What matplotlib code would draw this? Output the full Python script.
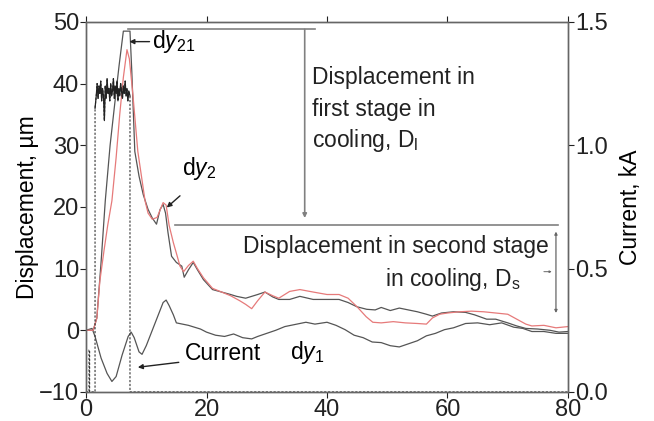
import matplotlib
matplotlib.use("Agg")
import matplotlib.pyplot as plt


# ------------------------------------------------------------
# Measured traces (time in s, displacement in um, current in kA)
# ------------------------------------------------------------
DY1_T = [0, 1.0, 1.5, 2.5, 3.5, 4.3, 5.0, 6.0, 7.0, 7.5, 8.0, 8.8, 9.3,
         10.0, 11.0, 12.0, 12.8, 13.3, 13.8, 14.5, 15.0, 16.0, 17.0, 18.0,
         19.0, 20.0, 21.5, 23.0, 24.5, 26.0, 27.5, 28.5, 30.0, 31.5, 33.0,
         35.0, 36.5, 38.0, 40.0, 41.5, 43.0, 44.5, 46.0, 47.5, 49.0, 50.5,
         52.0, 53.5, 55.0, 56.5, 58.0, 59.5, 61.0, 63.0, 65.0, 67.0, 69.0,
         71.0, 72.5, 74.0, 76.0, 78.0, 80.0]
DY1 = [0, 0.3, -1.0, -4.5, -7.0, -8.3, -7.5, -4.0, -1.0, -0.3, -1.2, -3.5,
       -3.9, -2.5, 0.0, 2.5, 4.5, 4.9, 4.0, 2.5, 1.2, 1.0, 0.8, 0.5, 0.2,
       -0.3, -0.8, -1.0, -0.6, -1.2, -1.4, -1.0, -0.5, 0.0, 0.6, 1.0, 1.3,
       1.0, 1.3, 0.8, 0.1, -0.8, -1.2, -1.9, -2.0, -2.5, -2.7, -2.2, -1.7,
       -0.9, -0.5, 0.1, 0.4, 1.1, 1.2, 0.9, 1.2, 0.5, 0.3, -0.2, -0.2, -0.5,
       -0.5]

DY2_T = [0, 1.2, 1.8, 2.3, 3.0, 3.6, 4.3, 5.0, 5.6, 6.2, 6.8, 7.2, 7.8, 8.6,
         9.2, 9.8, 10.3, 11.0, 11.8, 12.3, 12.8, 13.3, 13.8, 14.5, 15.0,
         15.6, 16.2, 17.0, 17.8, 18.5, 19.5, 21.0, 22.5, 24.0, 25.5, 26.5,
         27.5, 28.5, 29.7, 31.0, 32.0, 33.8, 35.5, 37.7, 40.0, 42.0, 43.5,
         45.0, 46.5, 47.6, 49.0, 51.0, 53.0, 55.0, 56.5, 57.5, 58.7, 60.0,
         62.0, 64.0, 66.0, 68.0, 70.0, 71.5, 73.0, 74.0, 76.0, 78.0, 80.0]
DY2 = [0, 0, 2.0, 8.0, 13.0, 17.0, 21.0, 28.0, 35.0, 41.0, 45.5, 44.0, 38.0,
       29.0, 25.0, 21.0, 19.0, 18.0, 18.3, 19.5, 20.7, 20.3, 17.0, 14.2,
       12.5, 10.4, 9.5, 10.5, 11.2, 10.0, 8.5, 6.8, 6.2, 5.6, 4.8, 4.2, 3.5,
       4.8, 6.2, 5.6, 5.2, 6.3, 6.6, 6.2, 5.8, 5.8, 5.2, 3.8, 2.2, 1.3, 1.2,
       1.4, 1.2, 1.1, 1.0, 2.0, 2.6, 2.8, 3.0, 3.1, 3.0, 2.8, 2.6, 1.8, 1.0,
       0.7, 0.8, 0.4, 0.6]

DY21_T = [0, 1.2, 1.8, 2.5, 3.2, 4.0, 4.8, 5.5, 6.2, 7.3, 7.6, 8.1, 8.8,
          9.5, 10.3, 11.0, 11.7, 12.3, 12.8, 13.2, 13.6, 14.2, 15.0, 15.9,
          16.3, 17.0, 17.8, 18.5, 19.5, 21.0, 22.5, 24.0, 25.0, 26.5, 27.5,
          28.5, 29.7, 31.0, 32.0, 33.8, 35.5, 37.7, 40.0, 42.0, 43.5, 45.0,
          46.6, 48.0, 49.0, 50.5, 52.0, 53.0, 55.0, 56.5, 57.5, 59.0, 61.0,
          63.0, 64.5, 66.5, 68.0, 70.0, 71.5, 73.0, 75.0, 77.0, 78.5, 80.0]
DY21 = [0, 0, 2.0, 11.0, 21.0, 30.0, 37.0, 43.0, 48.5, 48.5, 42.0, 29.0,
        25.0, 22.0, 19.6, 18.2, 17.2, 19.6, 20.4, 19.0, 15.9, 12.0, 11.0,
        10.4, 8.6, 9.8, 11.0, 9.8, 8.2, 6.6, 6.2, 5.8, 5.5, 5.2, 5.5, 5.8,
        6.2, 5.4, 5.0, 5.0, 5.5, 5.0, 5.0, 5.0, 4.5, 3.8, 3.4, 3.3, 3.7, 3.2,
        3.6, 3.4, 3.0, 2.6, 2.3, 2.8, 3.0, 2.9, 2.5, 1.8, 1.8, 1.2, 0.7, 0.3,
        0.2, 0.0, -0.3, -0.2]

# current pulse: leading edge, noisy plateau, trailing edge
CUR_T = [0, 0.5, 0.5, 0.6, 0.6, 1.5, 1.5, 1.7, 1.85, 2.0, 2.15, 2.3, 2.45,
         2.6, 2.75, 2.9, 3.05, 3.2, 3.35, 3.5, 3.65, 3.8, 3.95, 4.1, 4.25,
         4.4, 4.55, 4.7, 4.85, 5.0, 5.15, 5.3, 5.45, 5.6, 5.75, 5.9, 6.05,
         6.2, 6.35, 6.5, 6.65, 6.8, 6.95, 7.1, 7.3, 7.3, 80]
CUR = [0, 0, 0.17, 0.17, 0, 0, 1.15, 1.20, 1.25, 1.19, 1.24, 1.21, 1.26,
       1.18, 1.23, 1.20, 1.10, 1.24, 1.19, 1.27, 1.21, 1.23, 1.18, 1.25,
       1.20, 1.22, 1.27, 1.19, 1.24, 1.21, 1.26, 1.18, 1.23, 1.20, 1.25,
       1.22, 1.19, 1.24, 1.21, 1.26, 1.20, 1.23, 1.18, 1.22, 1.20, 0, 0]
PLATEAU = slice(6, 45)

X_TICKS = [0, 20, 40, 60, 80]
Y_TICKS = [-10, 0, 10, 20, 30, 40, 50]
I_TICKS = [0.0, 0.5, 1.0, 1.5]

GREY = "#555555"
RED = "#e67a7a"
ANNOT = "#808080"
TXT = "#222222"
FS = 16.5

plt.rcParams["font.family"] = ["Liberation Sans", "DejaVu Sans"]
plt.rcParams["mathtext.fontset"] = "custom"
plt.rcParams["mathtext.rm"] = "Liberation Sans"
plt.rcParams["mathtext.it"] = "Liberation Sans:italic"


def main():
    fig = plt.figure(figsize=(6.54, 4.21), dpi=100)
    ax = fig.add_axes([0.1315, 0.069, 0.737, 0.879])
    ax2 = ax.twinx()

    # current on the right-hand axis
    ax2.plot(CUR_T, CUR, color="#333333", lw=0.8, ls=(0, (2, 1.5)))
    ax2.plot(CUR_T[PLATEAU], CUR[PLATEAU], color="#222222", lw=0.9)
    ax2.set_ylim(0, 1.5)
    ax2.set_yticks(I_TICKS)
    ax2.set_yticklabels([f"{v:.1f}" for v in I_TICKS])
    ax2.set_ylabel("Current, kA", fontsize=FS, labelpad=8)

    # displacement traces
    ax.plot(DY1_T, DY1, color=GREY, lw=0.9)
    ax.plot(DY21_T, DY21, color=GREY, lw=0.9)
    ax.plot(DY2_T, DY2, color=RED, lw=0.9)

    ax.set_xlim(0, 80)
    ax.set_ylim(-10, 50)
    ax.set_xticks(X_TICKS)
    ax.set_yticks(Y_TICKS)
    ax.set_ylabel("Displacement, \u00b5m", fontsize=FS, labelpad=0)

    for a in (ax, ax2):
        a.tick_params(direction="out", length=4, width=0.8, labelsize=17,
                      colors=TXT, pad=1)
        for s in a.spines.values():
            s.set_color("#666666")
            s.set_linewidth(1.0)
    ax.tick_params(axis="x", top=True, pad=1)

    # stage brackets
    ax.plot([7.0, 38.0], [48.8, 48.8], color=ANNOT, lw=1.2)
    ax.annotate("", xy=(36.3, 18.2), xytext=(36.3, 48.8),
                arrowprops=dict(arrowstyle="-|>", color=ANNOT, lw=1.2,
                                mutation_scale=6, shrinkA=0, shrinkB=0))
    ax.plot([14.8, 78.3], [17.0, 17.0], color=ANNOT, lw=1.2)
    ax.annotate("", xy=(78.0, 2.8), xytext=(78.0, 16.0),
                arrowprops=dict(arrowstyle="<|-|>", color="#666666", lw=0.9,
                                mutation_scale=4, shrinkA=0, shrinkB=0))
    ax.annotate("", xy=(77.3, 9.5), xytext=(76.0, 9.5),
                arrowprops=dict(arrowstyle="-|>", color="#666666", lw=0.7,
                                mutation_scale=3, shrinkA=0, shrinkB=0))

    first_stage = ["Displacement in", "first stage in",
                   "cooling, D$_\\mathrm{l}$"]
    for line, yv in zip(first_stage, [41.0, 35.8, 30.8]):
        ax.text(37.5, yv, line, fontsize=FS, va="center", ha="left", color=TXT)
    ax.text(26.0, 13.6, "Displacement in second stage", fontsize=FS,
            va="center", ha="left", color=TXT)
    ax.text(49.6, 8.3, "in cooling, D$_\\mathrm{s}$", fontsize=FS,
            va="center", ha="left", color=TXT)

    # curve labels
    arrow = dict(arrowstyle="-|>", color=TXT, lw=1.0, mutation_scale=7,
                 shrinkA=0, shrinkB=0)
    ax.annotate("d$\\it{y}_{21}$", xy=(7.2, 46.8), xytext=(11.0, 46.8),
                fontsize=FS, va="center", ha="left", arrowprops=arrow)
    ax.annotate("", xy=(13.4, 19.9), xytext=(15.6, 21.8), arrowprops=arrow)
    ax.text(15.9, 26.2, "d$\\it{y}_{2}$", fontsize=FS, va="center", ha="left")
    ax.text(33.8, -3.6, "d$\\it{y}_{1}$", fontsize=FS, va="center", ha="left")
    ax.annotate("", xy=(8.6, -6.0), xytext=(15.4, -5.2), arrowprops=arrow)
    ax.text(16.4, -3.8, "Current", fontsize=FS, va="center", ha="left")

    fig.savefig("out.png", dpi=100)
    plt.close(fig)


if __name__ == "__main__":
    main()
